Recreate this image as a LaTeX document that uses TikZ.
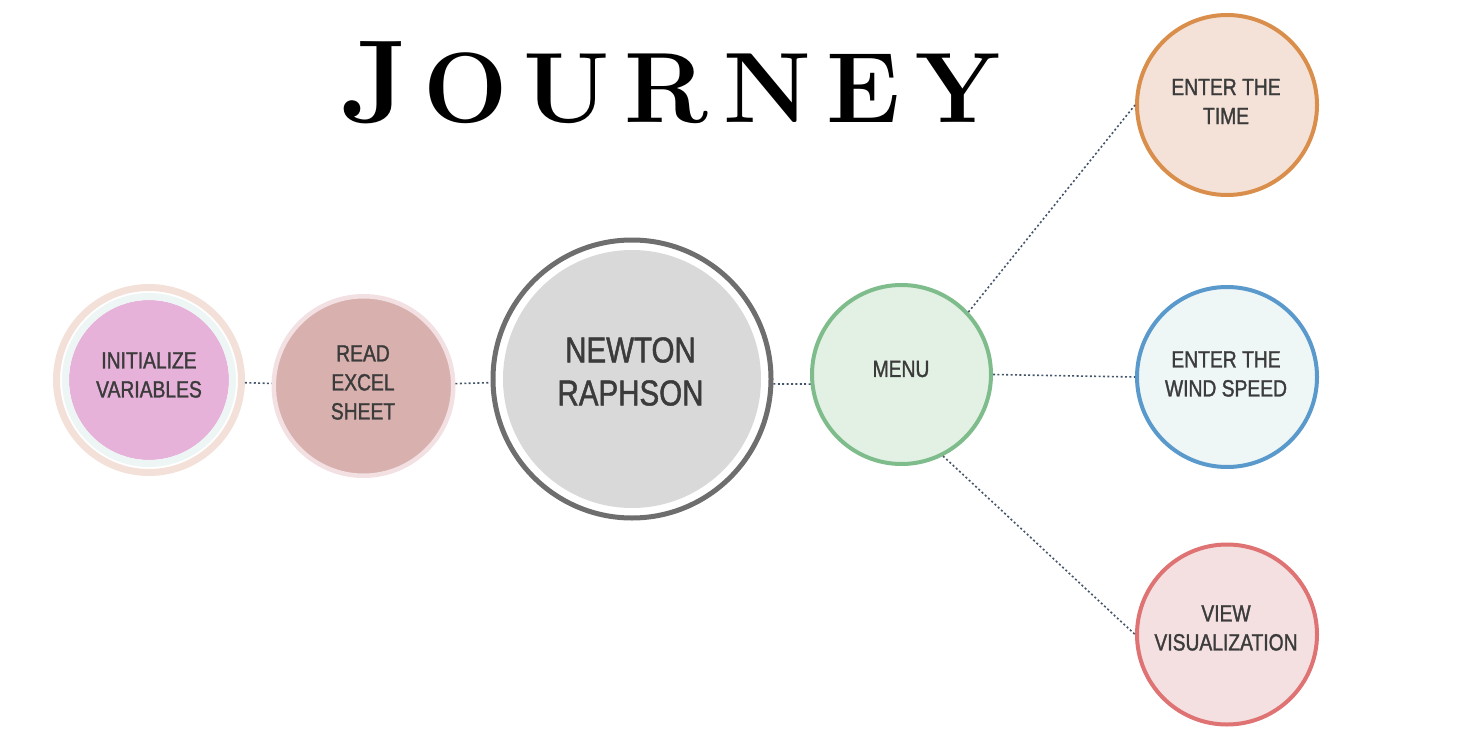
\documentclass[tikz,border=0pt]{standalone}
\usepackage{fontspec}
\newfontfamily\labelfont{Liberation Sans}[FakeStretch=0.82,FakeBold=1.3]
\newfontfamily\titlefont{Latin Modern Roman}
\definecolor{peach}{HTML}{F3E1D9}
\definecolor{cyanr}{HTML}{EEF6F5}
\definecolor{pinkf}{HTML}{E6B2D9}
\definecolor{readring}{HTML}{F2E0E2}
\definecolor{readfill}{HTML}{D8B1AF}
\definecolor{nring}{HTML}{6E6E6E}
\definecolor{nfill}{HTML}{D9D9D9}
\definecolor{menus}{HTML}{7FBC8C}
\definecolor{menuf}{HTML}{E2F1E4}
\definecolor{times}{HTML}{D98F4B}
\definecolor{timef}{HTML}{F4E2D9}
\definecolor{winds}{HTML}{5A99CB}
\definecolor{windf}{HTML}{EEF6F6}
\definecolor{views}{HTML}{DF7272}
\definecolor{viewf}{HTML}{F4E0E1}
\definecolor{connc}{HTML}{44546A}
\definecolor{txt}{HTML}{3B3B3B}
\begin{document}
\begin{tikzpicture}[x=1pt,y=-1pt,
  conn/.style={draw=connc, line width=1.6pt, dash pattern=on 2pt off 2.4pt},
  lbl/.style={text=txt, align=center, inner sep=0pt, font=\labelfont\fontsize{23.5pt}{29pt}\selectfont},
  biglbl/.style={text=txt, align=center, inner sep=0pt, font=\labelfont\fontsize{36pt}{43pt}\selectfont},
  bub/.style={circle, inner sep=0pt, line width=4pt}]
\useasboundingbox (0,0) rectangle (1458,730);
% title
\node[anchor=base west, inner sep=0pt, text=black] (title) at (340,123)
  {\titlefont\bfseries\fontsize{118pt}{118pt}\selectfont J\kern15pt\fontsize{100pt}{100pt}\selectfont O\kern15pt U\kern15pt R\kern15pt N\kern15pt E\kern15pt Y};
% circles
\node[circle, inner sep=0pt, minimum size=185pt, draw=peach, line width=7pt, fill=white] (init) at (149,380) {};
\fill[pinkf] (init.center) circle[radius=80pt];
\draw[cyanr, line width=7pt] (init.center) circle[radius=83.5pt];
\node[bub, minimum size=179.5pt, draw=readring, line width=4.5pt, fill=readfill] (read) at (363.5,386) {};
\node[bub, minimum size=278pt, draw=nring, line width=5pt, fill=white] (newton) at (632,379) {};
\fill[nfill] (newton.center) circle[radius=129pt];
\node[bub, minimum size=179pt, draw=menus, fill=menuf] (menu) at (901.5,374.5) {};
\node[bub, minimum size=180pt, draw=times, fill=timef] (time) at (1227,105) {};
\node[bub, minimum size=180pt, draw=winds, fill=windf] (wind) at (1227,377) {};
\node[bub, minimum size=180pt, draw=views, fill=viewf] (view) at (1227,634.5) {};
% connectors
\draw[conn] (init) -- (read);
\draw[conn] (read) -- (newton);
\draw[conn] (newton.-2) -- (menu.186);
\draw[conn] (menu.43) -- (time.west);
\draw[conn] (menu.east) -- (wind.west);
\draw[conn] (menu.-63) -- (view.west);
% labels
\node[lbl] (initL) at (149,375) {INITIALIZE\\VARIABLES};
\node[lbl] (readL) at (363,382.5) {READ\\EXCEL\\SHEET};
\node[biglbl] (newtonL) at (630.5,371.5) {NEWTON\\RAPHSON};
\node[lbl] (menuL) at (901,369) {MENU};
\node[lbl] (timeL) at (1226,101.5) {ENTER THE\\TIME};
\node[lbl] (windL) at (1226,374) {ENTER THE\\WIND SPEED};
\node[lbl] (viewL) at (1226,628) {VIEW\\VISUALIZATION};
\end{tikzpicture}
\end{document}
